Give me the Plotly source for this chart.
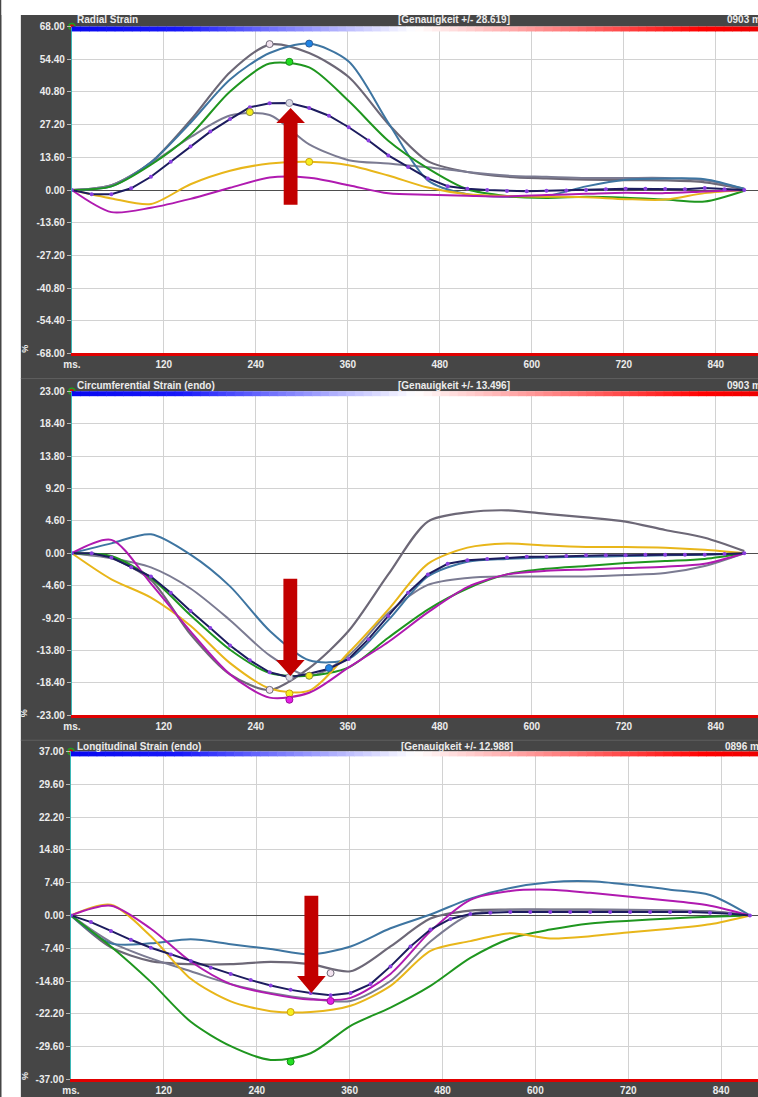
import plotly.graph_objects as go

# ---------------------------------------------------------------- data
# frame times (ms); the dotted mean curve is sampled every frame,
# the segment curves every second frame
T_FULL = [0.0, 25.8, 51.6, 77.4, 103.2, 129.0, 154.8, 180.6, 206.4, 232.2,
          258.0, 283.8, 309.6, 335.4, 361.2, 387.0, 412.8, 438.6, 464.4, 490.2,
          516.0, 541.8, 567.6, 593.4, 619.2, 645.0, 670.8, 696.6, 722.4, 748.2,
          774.0, 799.8, 825.6, 851.4, 877.2]
T_HALF = [0.0, 51.6, 103.2, 154.8, 206.4, 258.0, 309.6, 361.2, 412.8, 464.4,
          516.0, 567.6, 619.2, 670.8, 722.4, 774.0, 825.6, 877.2]

X_TICKS = [0, 120, 240, 360, 480, 600, 720, 840]
X_TICK_TEXT = ["ms.", "120", "240", "360", "480", "600", "720", "840"]

RADIAL_TICKS = [68.0, 54.4, 40.8, 27.2, 13.6, 0.0, -13.6, -27.2, -40.8, -54.4, -68.0]
CIRC_TICKS = [23.0, 18.4, 13.8, 9.2, 4.6, 0.0, -4.6, -9.2, -13.8, -18.4, -23.0]
LONG_TICKS = [37.0, 29.6, 22.2, 14.8, 7.4, 0.0, -7.4, -14.8, -22.2, -29.6, -37.0]

# radial strain (%)
RAD_GRAY_A = [0, 2, 11.5, 29, 49, 60.5, 57, 47, 27.5, 12, 7.5, 5.5, 4.8, 4.3, 4.1, 4, 3.2, 0.3]
RAD_GRAY_B = [0, 2, 11, 22, 31, 31.2, 19, 12.4, 11, 9.5, 7.5, 6, 5.5, 5, 5, 5, 4, 0.5]
RAD_STEEL = [0, 1.5, 11.5, 28, 46, 57, 60.9, 53.5, 28, 4, -1.8, -2.8, -2.5, 1.5, 4.3, 4.8, 4.5, 0.5]
RAD_GREEN = [0, 1.5, 10.5, 23, 41, 52.6, 51, 37, 20.5, 9, 0.3, -2.5, -3.3, -2.8, -3.2, -4, -4.8, -0.3]
RAD_YELLOW = [0, -3.5, -5.8, 2.4, 8, 11, 11.7, 10.3, 6, 1, -1.8, -2.5, -2.8, -3, -3.8, -4, -1.3, 0]
RAD_MAGENTA = [0, -9.2, -7.4, -3.7, 0.9, 5.2, 5.1, 2, -1.4, -2, -2.4, -2.7, -2.1, -1.6, -1.1, -1.3, -0.6, 0]
RAD_MEAN = [0, -1.8, -1.8, 0.7, 5.5, 11.7, 18.1, 24.3, 29.5, 34.4, 36.1, 36.2, 34.1, 30.9,
            26.1, 20.6, 14.4, 9.6, 4.8, 1.6, 0.5, 0, -0.4, -0.5, -0.3, -0.2, 0, 0.3, 0.5,
            0.5, 0.4, 0.3, 0.8, 0.3, 0]
RAD_PEAK_T = {"gray_a": 258.0, "gray_b": 232.2, "steel": 309.6, "green": 283.8,
              "yellow": 309.6, "mean": 283.8}
RAD_PEAK_V = {"gray_a": 60.7, "gray_b": 32.4, "steel": 60.9, "green": 53.3,
              "yellow": 11.7, "mean": 36.2}

# circumferential strain, endocardial (%)
CIR_GRAY_A = [0, -0.7, -3.8, -11.5, -17.2, -19.4, -16.3, -11, -3, 4.5, 5.8, 6.1, 5.6, 5.1, 4.5, 3.3, 2.2, 0.3]
CIR_GRAY_B = [0, -0.7, -2, -5, -9.5, -14.5, -17.4, -14.5, -8.5, -4.5, -3.5, -3.3, -3.3, -3.3, -3.1, -2.8, -1.8, 0]
CIR_STEEL = [0, 1.4, 2.7, -0.2, -4.7, -11, -15.2, -15, -9.5, -3.3, -1.2, -0.8, -0.6, -0.5, -0.4, -0.3, -0.2, 0]
CIR_GREEN = [0, -0.4, -3.5, -8.8, -13.7, -17, -17.4, -16.2, -12, -8, -5, -3, -2.2, -1.8, -1.4, -1.1, -0.8, 0]
CIR_YELLOW = [0, -3.7, -6.3, -10.3, -15.6, -19.2, -19.5, -14.1, -8, -1.5, 0.8, 1.4, 1.1, 0.9, 0.9, 0.8, 0.5, 0]
CIR_MAGENTA = [0, 1.9, -4.3, -11.1, -17.2, -20.5, -19.8, -16.2, -12.6, -8.4, -4.8, -3, -2.5, -2.3, -2.1, -1.9, -1.5, 0]
CIR_MEAN = [0, 0, -0.6, -2, -3.3, -5.6, -8.2, -10.6, -13.1, -15.2, -16.9, -17.6, -17.1, -16.4,
            -15, -12.2, -8.9, -5.6, -3, -1.5, -1, -0.8, -0.6, -0.5, -0.5, -0.4, -0.3, -0.3,
            -0.3, -0.2, -0.2, -0.2, -0.2, -0.1, 0]
CIR_PEAK_T = {"gray_a": 258.0, "gray_b": 309.6, "steel": 335.4, "yellow": 283.8,
              "magenta": 283.8, "mean": 283.8}
CIR_PEAK_V = {"gray_a": -19.4, "gray_b": -17.4, "steel": -16.3, "yellow": -19.9,
              "magenta": -20.8, "mean": -17.6}

# longitudinal strain, endocardial (%)
LON_GRAY_A = [0, -7.2, -10.3, -11, -11, -10.5, -11, -12.6, -7, -0.7, 1.1, 1.3, 1.3, 1.3, 1.1, 1.1, 0.9, 0]
LON_GRAY_B = [0, -6, -9.7, -12.6, -15.5, -17.5, -18.8, -19.3, -14.8, -5.9, 0.2, 1.3, 1.3, 1.3, 1.3, 1.1, 0.9, 0]
LON_STEEL = [0, -6.3, -6.3, -5.4, -6.5, -7.6, -8.8, -7, -2.9, 0.2, 3.8, 6.2, 7.5, 7.7, 6.9, 5.8, 4.6, 0]
LON_GREEN = [0, -7, -15, -24, -29.5, -32.6, -31.1, -24.9, -20.8, -15.9, -9.6, -5.2, -3.2, -1.8, -1.2, -0.7, -0.3, 0]
LON_YELLOW = [0, 2.4, -4.7, -14.3, -19.4, -21.6, -21.8, -20.4, -15.9, -8, -5.8, -4, -5.2, -4.7, -3.8, -3, -2, 0]
LON_MAGENTA = [0, 2.2, -3, -10.4, -15.5, -17.7, -19, -18.6, -13.2, -3.6, 3.5, 5.5, 5.8, 5.1, 4.2, 3.3, 2.2, 0]
LON_MEAN = [0, -1.5, -3.5, -5.5, -7.3, -8.8, -10.3, -11.8, -13.2, -14.6, -15.8, -16.8, -17.5,
            -18, -17.5, -15.5, -11.5, -7, -3.2, -0.8, 0.3, 0.6, 0.8, 0.8, 0.8, 0.8, 0.8, 0.8,
            0.8, 0.8, 0.8, 0.8, 0.6, 0.4, 0]
LON_PEAK_T = {"gray_a": 335.4, "green": 283.8, "yellow": 283.8, "magenta": 335.4}
LON_PEAK_V = {"gray_a": -13.0, "green": -33.0, "yellow": -21.8, "magenta": -19.3}

# ---------------------------------------------------------------- styles
W, H = 758, 1097
FONT = "Liberation Sans, Arial, sans-serif"
BG_DARK = "#464646"
TXT = "#ececec"

STYLE = {
    "gray_a":  dict(color="#6d6877", width=2.2, peak="#f3e4f0", edge="#6d6877"),
    "gray_b":  dict(color="#7b7b92", width=2.0, peak="#f4ee1c", edge="#8a8a40"),
    "steel":   dict(color="#3e75a1", width=2.0, peak="#1f84e6", edge="#2c5c9a"),
    "green":   dict(color="#1f961f", width=2.0, peak="#22e022", edge="#178a17"),
    "yellow":  dict(color="#e8b61a", width=2.0, peak="#f6f01e", edge="#c9a010"),
    "magenta": dict(color="#b01ab0", width=2.0, peak="#e620e6", edge="#9a109a"),
    "mean":    dict(color="#1c1c5e", width=2.0, peak="#dcdce6", edge="#8c8ca0"),
}
ORDER = ["gray_a", "gray_b", "steel", "green", "yellow", "magenta", "mean"]


def pxx(x):
    return x / W


def pyy(y):
    return 1 - y / H


PANELS = [
    dict(title="Radial Strain", acc="[Genauigkeit +/- 28.619]", dur="0903 ms",
         ticks=RADIAL_TICKS, xmax=895.1, x0=63.6, top=21.7, bot=351.7, title_y=15,
         acc_x=392, dur_x=724.5, pct_y=347,
         curves=dict(gray_a=RAD_GRAY_A, gray_b=RAD_GRAY_B, steel=RAD_STEEL, green=RAD_GREEN,
                     yellow=RAD_YELLOW, magenta=RAD_MAGENTA, mean=RAD_MEAN),
         peak_t=RAD_PEAK_T, peak_v=RAD_PEAK_V),
    dict(title="Circumferential Strain (endo)", acc="[Genauigkeit +/- 13.496]", dur="0903 ms",
         ticks=CIRC_TICKS, xmax=895.1, x0=63.6, top=389.8, bot=716.8, title_y=384,
         acc_x=392, dur_x=724.5, pct_y=715,
         curves=dict(gray_a=CIR_GRAY_A, gray_b=CIR_GRAY_B, steel=CIR_STEEL, green=CIR_GREEN,
                     yellow=CIR_YELLOW, magenta=CIR_MAGENTA, mean=CIR_MEAN),
         peak_t=CIR_PEAK_T, peak_v=CIR_PEAK_V),
    dict(title="Longitudinal Strain (endo)", acc="[Genauigkeit +/- 12.988]", dur="0896 ms",
         ticks=LONG_TICKS, xmax=887.6, x0=62.7, top=753.3, bot=1084.3, title_y=748,
         acc_x=395, dur_x=722.5, pct_y=1081,
         curves=dict(gray_a=LON_GRAY_A, gray_b=LON_GRAY_B, steel=LON_STEEL, green=LON_GREEN,
                     yellow=LON_YELLOW, magenta=LON_MAGENTA, mean=LON_MEAN),
         peak_t=LON_PEAK_T, peak_v=LON_PEAK_V),
]

fig = go.Figure()
shapes = []
annotations = []

# white frame strips round the dark panel background
shapes.append(dict(type="rect", xref="paper", yref="paper", x0=-0.01, x1=pxx(12), y0=-0.01, y1=1.01,
                   fillcolor="white", line_width=0, layer="below"))
shapes.append(dict(type="rect", xref="paper", yref="paper", x0=-0.01, x1=1.01, y0=pyy(10), y1=1.01,
                   fillcolor="white", line_width=0, layer="below"))
for ysep in (377, 742):
    shapes.append(dict(type="line", xref="paper", yref="paper", x0=pxx(12), x1=1,
                       y0=pyy(ysep), y1=pyy(ysep), line=dict(color="#5f5f5f", width=1)))


def grad_color(f):
    stops = [(0.0, (8, 8, 240)), (0.16, (25, 25, 250)), (0.50, (255, 255, 255)),
             (0.92, (255, 0, 0)), (1.0, (238, 0, 0))]
    for (a, ca), (b, cb) in zip(stops[:-1], stops[1:]):
        if a <= f <= b:
            u = (f - a) / (b - a)
            c = [round(ca[i] + (cb[i] - ca[i]) * u) for i in range(3)]
            return "rgb(%d,%d,%d)" % tuple(c)
    return "rgb(238,0,0)"


for i, p in enumerate(PANELS):
    n = "" if i == 0 else str(i + 1)
    xa, ya = "x" + n, "y" + n
    ymax = p["ticks"][0]
    dom_y = [pyy(p["bot"]), pyy(p["top"])]
    dom_x = [pxx(p["x0"]), 1.0]

    fig.update_layout(**{
        "xaxis" + n: dict(domain=dom_x, anchor=ya, range=[0, p["xmax"]],
                          tickvals=X_TICKS, ticktext=X_TICK_TEXT, ticks="",
                          tickfont=dict(family=FONT, size=10, color=TXT, weight="bold"),
                          showgrid=True, gridcolor="#d2d2d2", gridwidth=1, zeroline=False,
                          showline=True, linecolor="#e00000", linewidth=3, fixedrange=True),
        "yaxis" + n: dict(domain=dom_y, anchor=xa, range=[-ymax * 1.0002, ymax * 1.0002],
                          tickvals=p["ticks"], ticktext=["%.2f" % v for v in p["ticks"]],
                          ticks="outside", ticklen=4, tickcolor="#b8b8b8", tickwidth=1,
                          tickfont=dict(family=FONT, size=10, color=TXT, weight="bold"),
                          showgrid=True, gridcolor="#d2d2d2", gridwidth=1,
                          zeroline=True, zerolinecolor="#4e4e4e", zerolinewidth=1,
                          showline=True, linecolor="#3bb7b7", linewidth=1, fixedrange=True),
    })

    for name in ORDER:
        st = STYLE[name]
        vals = p["curves"][name]
        if name == "mean":
            fig.add_trace(go.Scatter(
                x=T_FULL, y=vals, xaxis=xa, yaxis=ya, mode="lines+markers",
                line=dict(color=st["color"], width=st["width"]),
                marker=dict(size=4, color="#8a3fe0", line=dict(width=0)),
                showlegend=False, hoverinfo="skip"))
        else:
            fig.add_trace(go.Scatter(
                x=T_HALF, y=vals, xaxis=xa, yaxis=ya, mode="lines",
                line=dict(color=st["color"], width=st["width"], shape="spline", smoothing=0.8),
                showlegend=False, hoverinfo="skip"))

    # peak markers
    for name in ORDER:
        if name in p["peak_t"]:
            st = STYLE[name]
            fig.add_trace(go.Scatter(
                x=[p["peak_t"][name]], y=[p["peak_v"][name]], xaxis=xa, yaxis=ya,
                mode="markers", marker=dict(size=7, color=st["peak"],
                                            line=dict(color=st["edge"], width=1)),
                showlegend=False, hoverinfo="skip"))

    # origin handle at the top-left corner
    fig.add_trace(go.Scatter(x=[0], y=[ymax], xaxis=xa, yaxis=ya, mode="markers",
                             marker=dict(size=6, color="#d01010",
                                         line=dict(color="#20a020", width=1.5)),
                             cliponaxis=False, showlegend=False, hoverinfo="skip"))

    # colour bar across the top of the plot area
    x_start, x_end = p["x0"], W
    nseg = 80
    for k in range(nseg):
        a = x_start + (x_end - x_start) * k / nseg
        b = x_start + (x_end - x_start) * (k + 1) / nseg + 0.6
        f = (k + 0.5) / nseg
        shapes.append(dict(type="rect", xref="paper", yref="paper",
                           x0=pxx(a), x1=pxx(min(b, W)), y0=pyy(p["top"] + 5), y1=pyy(p["top"]),
                           fillcolor=grad_color(f), line_width=0, layer="above"))

    # header texts
    hdr = dict(family=FONT, size=10, color=TXT, weight="bold")
    annotations.append(dict(xref="paper", yref="paper", x=pxx(67), y=pyy(p["title_y"]),
                            xanchor="left", yanchor="middle", text=p["title"],
                            showarrow=False, font=hdr))
    annotations.append(dict(xref="paper", yref="paper", x=pxx(p["acc_x"]), y=pyy(p["title_y"]),
                            xanchor="left", yanchor="middle", text=p["acc"],
                            showarrow=False, font=hdr))
    annotations.append(dict(xref="paper", yref="paper", x=pxx(p["dur_x"]), y=pyy(p["title_y"]),
                            xanchor="left", yanchor="middle", text=p["dur"],
                            showarrow=False, font=hdr))
    annotations.append(dict(xref="paper", yref="paper", x=pxx(16), y=pyy(p["pct_y"]),
                            xanchor="center", yanchor="middle", text="%", textangle=-90,
                            showarrow=False, font=dict(family=FONT, size=9, color=TXT,
                                                       weight="bold")))


# big red arrows (pixel geometry)
def arrow_path(cx, y_tail, y_base, y_tip, shaft_w, head_w):
    pts = [(cx - shaft_w / 2, y_tail), (cx - shaft_w / 2, y_base), (cx - head_w / 2, y_base),
           (cx, y_tip), (cx + head_w / 2, y_base), (cx + shaft_w / 2, y_base),
           (cx + shaft_w / 2, y_tail)]
    return "M " + " L ".join("%.5f,%.5f" % (pxx(x), pyy(y)) for x, y in pts) + " Z"


ARROWS = [(285.0, 201.7, 119.0, 104.0), (284.7, 579.0, 661.0, 677.3), (306.0, 899.0, 980.0, 997.0)]
for cx, yt, yb, ytip in ARROWS:
    shapes.append(dict(type="path", xref="paper", yref="paper",
                       path=arrow_path(cx, yt, yb, ytip, 14, 29),
                       fillcolor="#c20000", line_width=0, layer="above"))

fig.update_layout(width=W, height=H, margin=dict(l=0, r=0, t=0, b=0),
                  paper_bgcolor=BG_DARK, plot_bgcolor="white",
                  shapes=shapes, annotations=annotations, showlegend=False)

fig.write_html("out.html", config={"displayModeBar": False})
